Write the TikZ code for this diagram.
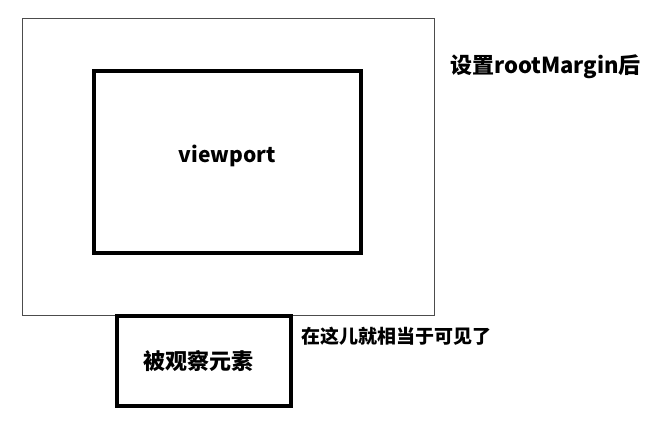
\documentclass[tikz,border=0pt]{standalone}
\usepackage{fontspec}
\setmainfont{Noto Sans CJK SC}
\usetikzlibrary{positioning}

\begin{document}
\begin{tikzpicture}[x=1pt,y=-1pt]
\tikzstyle{thinbox}=[draw=black!70,line width=1pt,inner sep=0pt]
\tikzstyle{thickbox}=[draw=black,line width=4pt,inner sep=0pt,font=\bfseries]
\tikzstyle{note}=[inner sep=0pt,font=\bfseries]

\useasboundingbox (0,0) rectangle (656,432);

\node[thinbox,minimum width=412pt,minimum height=297pt] (root) at (228,166.5) {};
\node[thickbox,minimum width=267pt,minimum height=182pt] (viewport) at (227.5,162) {};
\node[note,font=\bfseries\fontsize{21}{24}\selectfont] (vptext) at (227,156) {viewport};
\node[thickbox,minimum width=174pt,minimum height=90pt] (target) at (204,361) {};
\node[note,font=\bfseries\fontsize{22}{26}\selectfont] (tgtext) at (198,361) {被观察元素};

\node[note,font=\bfseries\fontsize{22}{26}\selectfont,anchor=west] (margin) at (450,67) {设置rootMargin后};
\node[note,font=\bfseries\fontsize{19}{22}\selectfont,anchor=west] (visible) at (301,336) {在这儿就相当于可见了};

\end{tikzpicture}
\end{document}
